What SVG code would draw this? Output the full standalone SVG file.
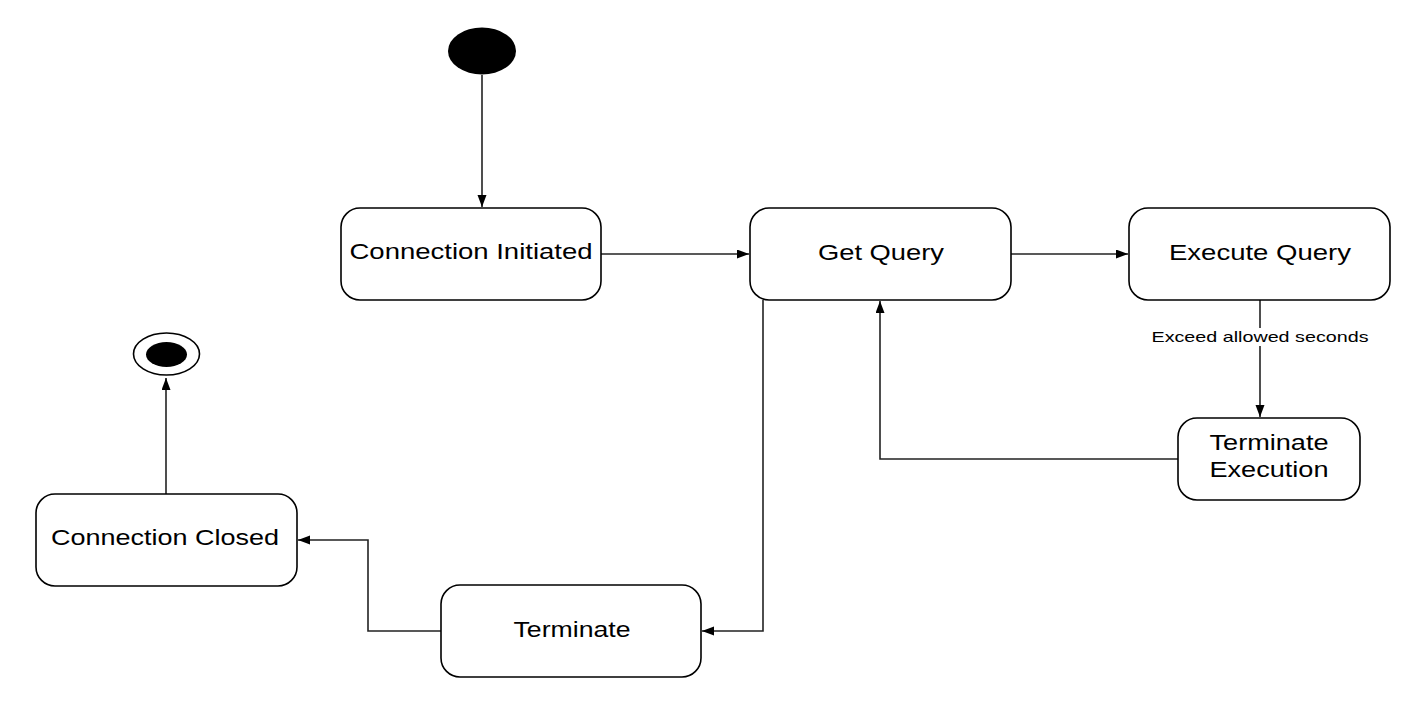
<svg xmlns="http://www.w3.org/2000/svg" width="1427" height="705" viewBox="0 0 1427 705">
  <style>
    .node rect { fill: #ffffff; stroke: #000000; stroke-width: 1.6; }
    .lbl { font-family: "Liberation Sans", Arial, sans-serif; font-size: 22px; fill: #000000; text-anchor: middle; }
    .edge { fill: none; stroke: #222222; stroke-width: 1.6; }
    .elbl { font-family: "Liberation Sans", Arial, sans-serif; font-size: 15px; fill: #000000; text-anchor: middle; }
  </style>
  <defs>
    <marker id="arrow" markerUnits="userSpaceOnUse" markerWidth="13" markerHeight="10" refX="12" refY="4.5" orient="auto">
      <path d="M0,0 L12,4.5 L0,9 z" fill="#000000"/>
    </marker>
  </defs>
  <rect x="0" y="0" width="1427" height="705" fill="#ffffff"/>

  <g id="connectors">
    <path class="edge" d="M482,75 L482,207" marker-end="url(#arrow)"/>
    <path class="edge" d="M601,254 L749,254" marker-end="url(#arrow)"/>
    <path class="edge" d="M1011,254 L1128,254" marker-end="url(#arrow)"/>
    <path class="edge" d="M1260,300 L1260,417" marker-end="url(#arrow)"/>
    <path class="edge" d="M1178,459 L880,459 L880,301" marker-end="url(#arrow)"/>
    <path class="edge" d="M763,300 L763,631 L702,631" marker-end="url(#arrow)"/>
    <path class="edge" d="M441,631 L368,631 L368,540 L298,540" marker-end="url(#arrow)"/>
    <path class="edge" d="M166,494 L166,378" marker-end="url(#arrow)"/>
    <g id="edge-label">
      <rect x="1148" y="328" width="224" height="18" fill="#ffffff"/>
      <text class="elbl" x="1260" y="342" textLength="217" lengthAdjust="spacingAndGlyphs">Exceed allowed seconds</text>
    </g>
  </g>

  <g id="start">
    <ellipse cx="482" cy="51" rx="34" ry="23.5" fill="#000000"/>
  </g>

  <g id="end">
    <ellipse cx="166.5" cy="354" rx="33" ry="21" fill="#ffffff" stroke="#000000" stroke-width="1.6"/>
    <ellipse cx="166.5" cy="354.5" rx="20.5" ry="12.5" fill="#000000"/>
  </g>

  <g id="connection-initiated" class="node">
    <rect x="341" y="208" width="260" height="92" rx="19" ry="19"/>
    <text class="lbl" x="471" y="259" textLength="243" lengthAdjust="spacingAndGlyphs">Connection Initiated</text>
  </g>

  <g id="get-query" class="node">
    <rect x="750" y="208" width="261" height="92" rx="19" ry="19"/>
    <text class="lbl" x="881" y="260" textLength="126" lengthAdjust="spacingAndGlyphs">Get Query</text>
  </g>

  <g id="execute-query" class="node">
    <rect x="1129" y="208" width="261" height="92" rx="19" ry="19"/>
    <text class="lbl" x="1260" y="260" textLength="182" lengthAdjust="spacingAndGlyphs">Execute Query</text>
  </g>

  <g id="terminate-execution" class="node">
    <rect x="1178" y="418" width="182" height="82" rx="19" ry="19"/>
    <text class="lbl" x="1269" y="450" textLength="119" lengthAdjust="spacingAndGlyphs">Terminate</text>
    <text class="lbl" x="1269" y="477" textLength="119" lengthAdjust="spacingAndGlyphs">Execution</text>
  </g>

  <g id="connection-closed" class="node">
    <rect x="36" y="494" width="261" height="92" rx="19" ry="19"/>
    <text class="lbl" x="165" y="545" textLength="228" lengthAdjust="spacingAndGlyphs">Connection Closed</text>
  </g>

  <g id="terminate" class="node">
    <rect x="441" y="585" width="260" height="92" rx="19" ry="19"/>
    <text class="lbl" x="572" y="637" textLength="117" lengthAdjust="spacingAndGlyphs">Terminate</text>
  </g>
</svg>
